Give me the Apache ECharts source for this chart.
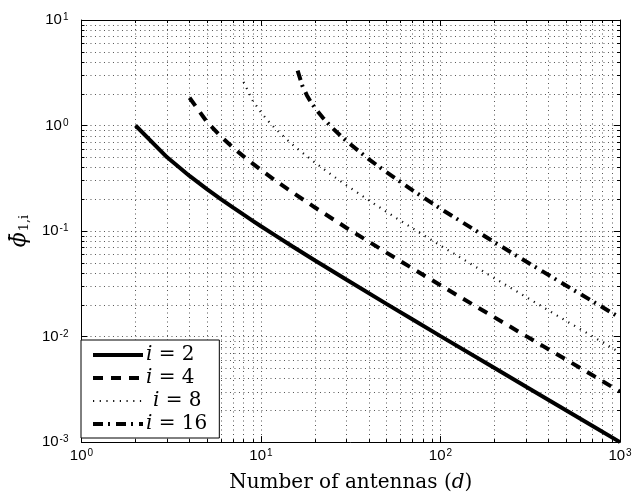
<!DOCTYPE html>
<html><head><meta charset="utf-8">
<script src="https://cdn.jsdelivr.net/npm/echarts@6/dist/echarts.min.js"></script>
<style>html,body{margin:0;padding:0;background:#fff}#c{width:643px;height:498px}</style>
</head><body><div id="c"></div>
<script>
// Data (number of antennas d, value of phi-bar_{1,i})
const d2 = [2,3,4,5,6,7,8,9,10,12,15,20,30,50,70,100,200,300,500,700,1000];
const phi2 = [1.0,0.5,0.333,0.25,0.2,0.167,0.143,0.125,0.111,0.0909,0.0714,0.0526,0.0345,0.0204,0.0145,0.0101,0.00503,0.00334,0.0020,0.00143,0.0010];
const d4 = [4,5,6,7,8,9,10,12,15,20,30,50,70,100,200,300,500,700,1000];
const phi4 = [1.833,1.083,0.783,0.617,0.510,0.435,0.379,0.302,0.232,0.167,0.107,0.0625,0.0441,0.0306,0.0152,0.0101,0.00606,0.00432,0.00301];
const d8 = [8,9,10,11,12,14,16,20,25,30,40,50,70,100,200,300,500,700,1000];
const phi8 = [2.593,1.718,1.329,1.096,0.937,0.730,0.600,0.445,0.336,0.271,0.195,0.152,0.106,0.0729,0.0357,0.0237,0.0141,0.0101,0.00703];
const d16 = [16,17,18,19,20,22,25,30,40,50,70,100,200,300,500,700,1000];
const phi16 = [3.318,2.381,1.940,1.662,1.465,1.195,0.947,0.710,0.478,0.361,0.243,0.163,0.0782,0.0514,0.0305,0.0217,0.0151];
const seriesNames = ['i = 2','i = 4','i = 8','i = 16'];
const xTicks = [1,10,100,1000];
const yTicks = [0.001,0.01,0.1,1,10];

const zip = (a,b) => a.map((v,k)=>[v,b[k]]);
const chart = echarts.init(document.getElementById('c'), null, {renderer:'canvas'});
const SANS = 'Liberation Sans, Arial, sans-serif';
const SERIF = 'DejaVu Serif, Liberation Serif, serif';
const supLabel = v => '{b|10}{e|' + Math.round(Math.log10(v)) + '}';
const labelRich = {
  b:{fontSize:15, lineHeight:15, fontFamily:SANS, color:'#000', verticalAlign:'bottom'},
  e:{fontSize:10, lineHeight:10, fontFamily:SANS, color:'#000', verticalAlign:'top', padding:[0,0,10,1]}
};
const grid = {left:81, top:20, right:23, bottom:54};
const dotted = {color:'#555', width:1, type:[1,3.5]};
const baseX = {
  type:'log', logBase:10, min:1, max:1000,
  axisLine:{show:true, onZero:false, lineStyle:{color:'#000', width:1}},
  axisTick:{show:true, inside:true, length:6, lineStyle:{color:'#000'}},
  minorTick:{show:true, splitNumber:9, length:3, lineStyle:{color:'#000'}},
};
const baseY = {
  type:'log', logBase:10, min:0.001, max:10,
  axisLine:{show:true, onZero:false, lineStyle:{color:'#000', width:1}},
  axisTick:{show:true, inside:true, length:6, lineStyle:{color:'#000'}},
  minorTick:{show:true, splitNumber:9, length:3, lineStyle:{color:'#000'}},
};
const legendFmt = name => {
  const n = name.split('= ')[1];
  return (name==='i = 8' ? '{s|}' : '') + '{it|i}{r| = ' + n + '}';
};
const option = {
  animation:false,
  backgroundColor:'#fff',
  grid: grid,
  xAxis:[
    Object.assign({}, baseX, {
      position:'bottom',
      name:'Number of antennas ({it|d})', nameLocation:'middle', nameGap:28,
      nameTextStyle:{fontFamily:SERIF, fontSize:20, color:'#000',
        rich:{it:{fontStyle:'italic', fontFamily:SERIF, fontSize:20, color:'#000'}}},
      axisLabel:{show:true, margin:6, formatter:supLabel, rich:labelRich},
      splitLine:{show:true, lineStyle:dotted},
      minorSplitLine:{show:true, lineStyle:dotted}
    }),
    Object.assign({}, baseX, {position:'top', axisLabel:{show:false}, splitLine:{show:false}})
  ],
  yAxis:[
    Object.assign({}, baseY, {
      position:'left',
      name:'{p|ϕ̄}{s|1,i}', nameLocation:'middle', nameGap:50, nameRotate:90,
      nameTextStyle:{rich:{
        p:{fontFamily:SERIF, fontStyle:'italic', fontSize:22, color:'#000', verticalAlign:'top'},
        s:{fontFamily:SERIF, fontSize:13, color:'#000', verticalAlign:'bottom', padding:[10,0,0,1]}
      }},
      axisLabel:{show:true, margin:13, formatter:supLabel, rich:labelRich},
      splitLine:{show:true, lineStyle:dotted},
      minorSplitLine:{show:true, lineStyle:dotted}
    }),
    Object.assign({}, baseY, {position:'right', axisLabel:{show:false}, splitLine:{show:false}})
  ],
  legend:{
    show:true, orient:'vertical', left:81, top:340,
    backgroundColor:'#fff', borderColor:'#000', borderWidth:1,
    padding:[5,12,4,10], itemGap:3, itemWidth:50, itemHeight:20,
    data:seriesNames,
    formatter:legendFmt,
    lineStyle:{width:'inherit'},
    itemStyle:{color:'rgba(0,0,0,0)', borderWidth:0, opacity:0},
    textStyle:{color:'#000', padding:[0,0,0,-2], rich:{
      it:{fontFamily:SERIF, fontStyle:'italic', fontSize:20, color:'#000'},
      r:{fontFamily:SERIF, fontSize:20, color:'#000'},
      s:{fontSize:20, width:7}
    }}
  },
  series:[
    {name:seriesNames[0], type:'line', data:zip(d2,phi2), showSymbol:false, symbol:'none',
     lineStyle:{color:'#000', width:4, type:'solid'}, itemStyle:{color:'#000'}},
    {name:seriesNames[1], type:'line', data:zip(d4,phi4), showSymbol:false, symbol:'none',
     lineStyle:{color:'#000', width:4, type:[10,8]}, itemStyle:{color:'#000'}},
    {name:seriesNames[2], type:'line', data:zip(d8,phi8), showSymbol:false, symbol:'none',
     lineStyle:{color:'#111', width:2.2, type:[1.2,5.5]}, itemStyle:{color:'#111'}},
    {name:seriesNames[3], type:'line', data:zip(d16,phi16), showSymbol:false, symbol:'none',
     lineStyle:{color:'#000', width:4, type:[10,5,2,6]}, itemStyle:{color:'#000'}}
  ]
};
chart.setOption(option);
</script></body></html>
